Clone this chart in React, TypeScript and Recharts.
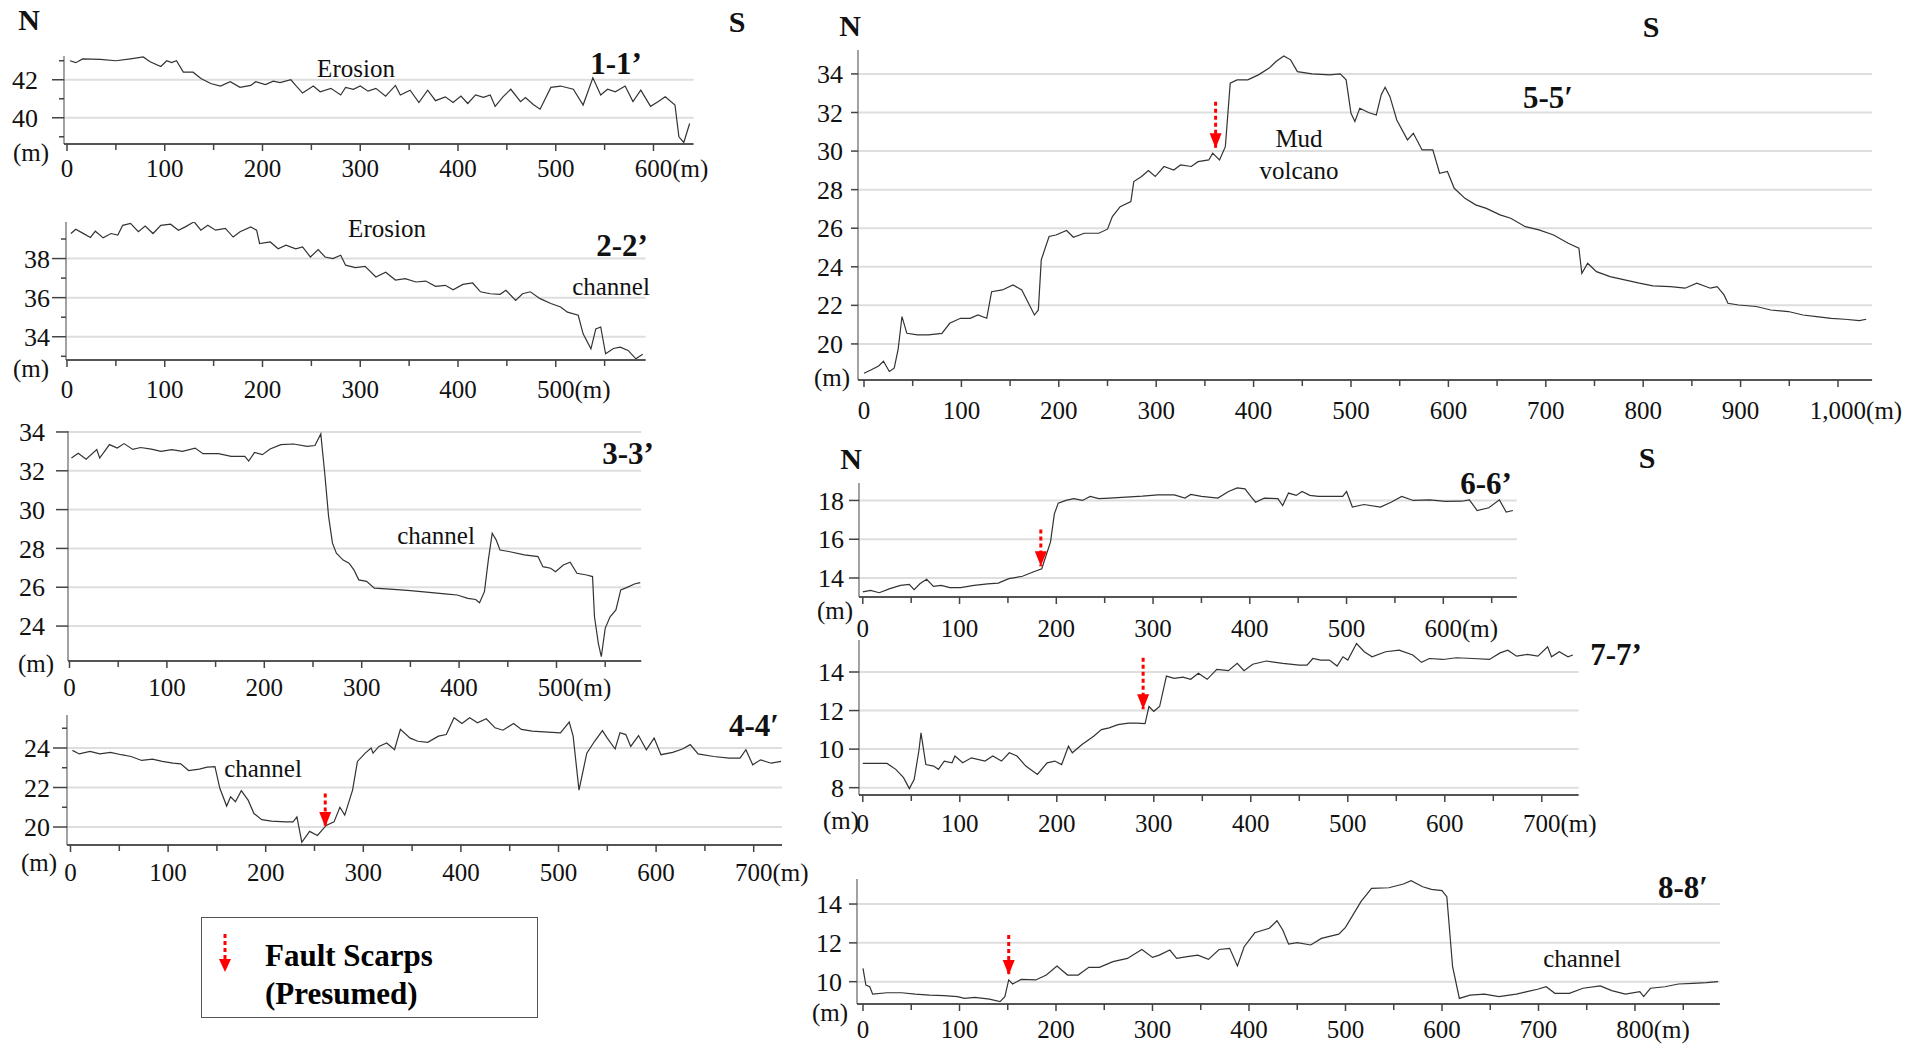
import React from 'react';
import { LineChart, Line, XAxis, YAxis, ReferenceLine, ReferenceDot } from 'recharts';

// profile 1-1'
const dist1 = [3,9,16,34,50,65,78,85,96,102,107,112,119,129,137,147,157,167,177,188,193,203,211,218,229,234,241,252,259,270,280,285,293,300,308,316,326,336,341,351,360,369,377,387,395,403,410,418,426,433,438,446,454,464,469,477,484,495,505,518,528,538,546,553,561,571,579,587,597,605,612,622,626,631,637];
const elev1 = [43.0,42.9,43.1,43.07,43.0,43.1,43.2,42.95,42.7,43.0,42.9,43.0,42.4,42.4,42.07,41.8,41.67,41.9,41.6,41.7,41.9,41.75,41.93,41.85,42.0,41.7,41.3,41.67,41.37,41.55,41.2,41.6,41.5,41.67,41.4,41.55,41.14,41.7,41.2,41.45,40.8,41.45,40.9,41.1,40.8,41.14,40.75,41.2,41.07,41.2,40.6,41.1,41.5,40.85,41.07,40.7,40.45,41.6,41.67,41.5,40.67,42.1,41.2,41.5,41.37,41.67,40.85,41.45,40.6,40.85,41.1,40.67,39.0,38.7,39.7];

// profile 2-2'
const dist2 = [4,9,16,24,29,37,45,52,57,65,73,80,88,96,106,114,121,130,137,144,152,162,170,177,188,194,197,208,216,224,234,241,249,257,264,272,280,285,295,305,316,326,336,346,357,367,377,387,395,405,415,423,433,443,449,459,466,474,484,495,505,512,523,528,536,541,546,551,559,566,574,582,589];
const elev2 = [39.28,39.5,39.3,39.08,39.4,39.06,39.28,39.2,39.7,39.8,39.37,39.66,39.28,39.7,39.76,39.45,39.62,39.88,39.45,39.7,39.45,39.54,39.1,39.37,39.62,39.45,38.77,38.85,38.5,38.68,38.5,38.6,38.08,38.46,38.08,38.0,38.17,37.66,37.54,37.6,37.06,37.3,36.9,36.97,36.8,36.85,36.58,36.63,36.4,36.68,36.75,36.3,36.2,36.17,36.38,35.86,36.2,36.3,35.95,35.7,35.52,35.26,35.1,34.15,33.38,34.4,34.5,33.13,33.4,33.47,33.3,32.87,33.1];

// profile 3-3'
const dist3 = [2,9,17,28,31,41,49,56,65,73,84,94,105,116,129,137,153,166,180,184,190,198,206,217,230,244,252,258,262,266,270,274,281,287,292,297,305,313,329,350,372,388,398,409,417,421,426,430,434,438,442,451,467,481,486,494,499,507,514,521,531,537,539,543,546,550,555,561,566,572,580,586];
const elev3 = [32.66,32.9,32.6,33.1,32.66,33.35,33.17,33.4,33.1,33.2,33.12,33.0,33.09,33.0,33.17,32.88,32.88,32.74,32.74,32.5,32.95,32.83,33.12,33.35,33.38,33.26,33.3,33.9,31.9,29.65,28.27,27.75,27.4,27.24,26.9,26.38,26.3,25.95,25.9,25.83,25.72,25.65,25.6,25.43,25.37,25.2,25.77,27.4,28.78,28.44,27.92,27.84,27.67,27.58,27.06,26.98,26.8,27.15,27.29,26.72,26.63,26.55,24.48,23.1,22.42,23.88,24.48,24.83,25.86,25.98,26.17,26.24];

// profile 4-4'
const dist4 = [2,9,20,30,41,52,62,73,84,94,105,113,121,132,140,148,153,160,164,169,175,182,188,196,206,220,228,232,237,245,253,262,270,276,281,289,294,302,308,310,316,324,332,338,348,356,366,377,385,393,401,409,417,426,435,443,454,462,473,489,502,511,515,521,529,537,545,550,558,563,569,574,582,590,598,605,617,627,635,643,659,675,686,692,699,707,718,728];
const elev4 = [23.88,23.7,23.83,23.7,23.78,23.66,23.57,23.37,23.44,23.32,23.23,23.2,22.86,22.93,23.03,23.06,21.96,21.06,21.53,21.28,21.84,21.36,20.68,20.37,20.3,20.26,20.26,20.51,19.23,19.78,19.57,20.08,20.26,21.0,20.6,21.87,23.32,23.74,24.0,23.74,24.08,24.25,23.91,24.94,24.5,24.34,24.29,24.6,24.68,25.53,25.24,25.53,25.28,25.48,25.02,24.9,25.24,24.94,24.85,24.8,24.77,25.31,24.6,21.87,23.74,24.34,24.88,24.5,23.95,24.77,24.68,24.08,24.63,23.91,24.5,23.66,23.78,23.95,24.17,23.7,23.57,23.49,23.49,23.91,23.15,23.4,23.23,23.32];

// profile 5-5'
const dist5 = [0,7,15,20,26,31,35,39,44,55,66,80,88,99,109,117,126,131,142,153,162,168,175,179,182,190,197,208,215,226,241,250,255,263,274,277,285,292,299,308,318,325,336,343,354,358,365,371,376,383,394,405,416,423,431,438,445,460,478,489,495,500,504,509,518,526,531,535,540,547,558,564,573,584,591,599,606,617,628,639,653,664,679,693,708,723,734,737,743,752,766,781,796,810,828,843,855,869,876,883,887,898,916,931,949,964,978,993,1007,1022,1029];
const elev5 = [18.48,18.65,18.86,19.1,18.57,18.74,19.7,21.42,20.55,20.47,20.47,20.55,21.07,21.33,21.33,21.5,21.33,22.71,22.8,23.06,22.8,22.2,21.5,21.76,24.36,25.57,25.65,25.88,25.53,25.74,25.74,25.95,26.6,27.12,27.38,28.42,28.68,28.99,28.68,29.2,29.02,29.28,29.2,29.45,29.54,29.89,29.54,30.23,33.52,33.69,33.69,33.95,34.3,34.64,34.93,34.73,34.12,34.0,33.95,34.0,33.69,31.96,31.53,32.22,32.0,31.87,32.91,33.31,32.82,31.61,30.58,30.92,30.06,30.06,28.85,28.94,28.07,27.55,27.21,27.03,26.69,26.52,26.08,25.91,25.65,25.22,24.96,23.66,24.18,23.75,23.49,23.32,23.15,23.01,22.97,22.89,23.15,22.89,22.97,22.54,22.11,22.02,21.94,21.76,21.68,21.5,21.42,21.33,21.28,21.21,21.28];

// profile 6-6'
const dist6 = [0,8,17,28,39,48,53,59,66,73,81,90,101,115,129,140,151,165,176,185,190,194,198,202,210,218,227,235,244,255,272,289,305,322,333,339,350,367,378,387,395,401,406,415,429,434,440,448,454,462,471,485,496,500,506,518,535,546,557,569,586,602,619,627,635,647,658,665,672];
const elev6 = [13.28,13.36,13.24,13.45,13.62,13.67,13.4,13.7,13.93,13.57,13.62,13.5,13.5,13.62,13.7,13.74,13.97,14.09,14.31,14.48,15.25,15.85,17.31,17.86,18.0,18.09,18.0,18.21,18.09,18.12,18.17,18.22,18.29,18.29,18.12,18.31,18.21,18.12,18.46,18.65,18.6,18.21,17.91,18.12,18.09,17.74,18.38,18.26,18.46,18.26,18.21,18.21,18.21,18.46,17.66,17.79,17.66,17.91,18.21,18.0,18.03,17.95,17.96,18.03,17.48,17.62,18.03,17.4,17.48];

// profile 7-7'
const dist7 = [0,25,34,42,48,53,58,60,65,73,78,84,92,95,103,112,126,134,143,151,159,168,180,190,198,205,212,216,226,238,246,254,263,274,282,291,295,300,306,313,321,330,338,346,355,365,377,386,393,402,416,433,450,458,464,472,481,489,495,500,509,517,525,539,553,567,576,584,598,612,629,646,657,665,674,685,696,706,710,718,727,732];
const elev7 = [9.26,9.26,8.95,8.52,7.95,8.43,9.98,10.84,9.2,9.12,8.95,9.38,9.29,9.64,9.29,9.55,9.38,9.64,9.38,9.81,9.64,9.12,8.69,9.29,9.38,9.2,10.15,9.81,10.24,10.67,11.01,11.1,11.27,11.35,11.35,11.32,12.21,11.96,12.21,13.79,13.67,13.73,13.62,13.93,13.62,14.14,14.07,14.45,14.07,14.4,14.57,14.45,14.36,14.36,14.7,14.62,14.62,14.31,14.79,14.62,15.48,15.05,14.79,15.05,15.13,14.88,14.5,14.7,14.65,14.74,14.7,14.65,14.99,15.13,14.82,14.91,14.82,15.31,14.79,15.05,14.79,14.88];

// profile 8-8'
const dist8 = [0,3,7,10,25,40,54,69,84,98,105,116,131,142,147,151,155,164,179,190,201,212,223,234,245,259,274,289,300,307,318,325,336,347,358,369,380,388,395,406,421,429,435,441,450,464,475,493,500,516,527,545,560,568,580,589,600,605,611,618,629,644,659,677,688,699,708,717,732,746,764,776,790,805,809,816,831,845,860,874,886];
const elev8 = [10.69,9.83,9.74,9.36,9.43,9.43,9.36,9.31,9.28,9.23,9.14,9.19,9.1,8.97,9.23,10.09,9.88,10.12,10.09,10.34,10.81,10.34,10.34,10.74,10.74,11.03,11.2,11.66,11.25,11.37,11.63,11.2,11.29,11.37,11.15,11.66,11.72,10.81,11.8,12.52,12.75,13.14,12.66,11.94,12.01,11.89,12.23,12.45,12.8,14.12,14.81,14.84,15.03,15.2,14.89,14.76,14.69,14.38,10.77,9.14,9.31,9.36,9.23,9.36,9.49,9.61,9.74,9.4,9.4,9.66,9.78,9.54,9.36,9.49,9.23,9.66,9.74,9.88,9.91,9.95,10.0];

// labelled elevation ticks per profile
const yMajor1 = [40, 42];
const yMajor2 = [34, 36, 38];
const yMajor3 = [24, 26, 28, 30, 32, 34];
const yMajor4 = [20, 22, 24];
const yMajor5 = [20, 22, 24, 26, 28, 30, 32, 34];
const yMajor6 = [14, 16, 18];
const yMajor7 = [8, 10, 12, 14];
const yMajor8 = [10, 12, 14];

// fault scarps (presumed): [distance, arrow top, arrow tip]
const fault4 = [261, 21.7, 20.0];
const fault5 = [361, 32.56, 30.15];
const fault6 = [184, 16.5, 14.6];
const fault7 = [289, 14.74, 12.07];
const fault8 = [151, 12.4, 10.34];

const FONT = '"Liberation Serif", "Times New Roman", serif';
const Y_W = 70;
const X_H = 50;

type Frame = {
  axisX: number; zeroX: number; ppm: number; xEnd: number;
  top: number; bottom: number; yMin: number; yMax: number;
  lastLabel: number; minor: boolean; tickLen: number; labelGap: number; xDy: number;
};

const rows = (d: number[], z: number[]) => d.map((x, i) => ({ d: x, z: z[i] }));

const numWidth = (s: string, fs: number) =>
  s.split('').reduce((w, c) => w + (c === ',' ? 0.25 : 0.5), 0) * fs;

function Profile({ f, dist, elev, major, fault }: { f: Frame; dist: number[]; elev: number[]; major: number[]; fault?: number[] }) {
  const xMin = -(f.zeroX - f.axisX) / f.ppm;
  const plotW = (f.xEnd - xMin) * f.ppm;
  const plotH = f.bottom - f.top;
  const xTicks: number[] = [];
  for (let v = 0; v <= f.xEnd; v += 50) xTicks.push(v);
  const yTicks: number[] = [];
  for (let v = Math.ceil(f.yMin); v <= f.yMax; v += 1) yTicks.push(v);
  const data = rows(dist, elev);

  const xTick = (p: any) => {
    const { x, y, payload } = p;
    const v = payload.value;
    const isMajor = v % 100 === 0;
    const fs = 25;
    let label: React.ReactNode = null;
    if (isMajor) {
      const s = v >= 1000 ? v.toLocaleString('en-US') : String(v);
      if (v === f.lastLabel) {
        label = (
          <text x={x - numWidth(s, fs) / 2} y={y + f.xDy} dy="0.35em" textAnchor="start" fontSize={fs} fill="#111">
            {s}(m)
          </text>
        );
      } else {
        label = (
          <text x={x} y={y + f.xDy} dy="0.35em" textAnchor="middle" fontSize={fs} fill="#111">
            {s}
          </text>
        );
      }
    }
    return (
      <g>
        <line x1={x} y1={y} x2={x} y2={y + (isMajor ? 7 : 6)} stroke="#444" strokeWidth={1.5} />
        {label}
      </g>
    );
  };

  const yTick = (p: any) => {
    const { x, y, payload } = p;
    const v = payload.value;
    const isMajor = major.includes(v);
    if (!isMajor && !f.minor) return <g />;
    return (
      <g>
        <line x1={x} y1={y} x2={x - (isMajor ? f.tickLen : 5)} y2={y} stroke="#444" strokeWidth={1.5} />
        {isMajor && (
          <text x={x - f.labelGap} y={y} dy="0.35em" textAnchor="end" fontSize={26} fill="#111">
            {v}
          </text>
        )}
      </g>
    );
  };

  return (
    <div style={{ position: 'absolute', left: f.axisX - Y_W, top: f.top - 2 }}>
      <LineChart width={Y_W + plotW + 4} height={2 + plotH + X_H} data={data} margin={{ top: 2, right: 4, left: 0, bottom: 0 }}>
        <XAxis
          type="number" dataKey="d" domain={[xMin, f.xEnd]} ticks={xTicks} interval={0}
          tickSize={0} tickMargin={0} height={X_H} tick={xTick} allowDataOverflow
          axisLine={{ stroke: '#555', strokeWidth: 2 }}
        />
        <YAxis
          type="number" domain={[f.yMin, f.yMax]} ticks={yTicks} interval={0}
          tickSize={0} tickMargin={0} width={Y_W} tick={yTick} allowDataOverflow
          axisLine={{ stroke: '#444', strokeWidth: 1 }}
        />
        {major.map((v) => (
          <ReferenceLine key={v} y={v} stroke="#dedede" strokeWidth={2} />
        ))}
        <Line type="linear" dataKey="z" stroke="#333" strokeWidth={1.2} dot={false} isAnimationActive={false} />
        {fault && (
          <ReferenceLine
            segment={[{ x: fault[0], y: fault[1] }, { x: fault[0], y: fault[2] }]}
            stroke="#ff0000" strokeWidth={3} strokeDasharray="4 3"
          />
        )}
        {fault && (
          <ReferenceDot
            x={fault[0]} y={fault[2]} r={1}
            shape={(p: any) => (
              <path d={`M${p.cx - 6},${p.cy - 15} L${p.cx + 6},${p.cy - 15} L${p.cx},${p.cy} Z`} fill="#ff0000" />
            )}
          />
        )}
      </LineChart>
    </div>
  );
}

const Note = ({ x, y, size = 25, bold = false, children }: { x: number; y: number; size?: number; bold?: boolean; children: React.ReactNode }) => (
  <div
    style={{
      position: 'absolute', left: x, top: y, transform: 'translate(-50%, -50%)',
      fontSize: size, fontWeight: bold ? 700 : 400, whiteSpace: 'nowrap', lineHeight: 1, color: '#111',
    }}
  >
    {children}
  </div>
);

const frame1: Frame = { axisX: 63.5, zeroX: 66.5, ppm: 0.9775, xEnd: 641, top: 56, bottom: 144, yMin: 38.62, yMax: 43.25, lastLabel: 600, minor: true, tickLen: 12, labelGap: 26, xDy: 24 };
const frame2: Frame = { axisX: 65.5, zeroX: 66.5, ppm: 0.9775, xEnd: 592, top: 222, bottom: 360, yMin: 32.81, yMax: 39.87, lastLabel: 500, minor: true, tickLen: 14, labelGap: 16, xDy: 29 };
const frame3: Frame = { axisX: 67.5, zeroX: 69, ppm: 0.974, xEnd: 587, top: 431, bottom: 661, yMin: 22.2, yMax: 34.05, lastLabel: 500, minor: false, tickLen: 12, labelGap: 23, xDy: 26 };
const frame4: Frame = { axisX: 66.5, zeroX: 70, ppm: 0.976, xEnd: 729, top: 715, bottom: 845, yMin: 19.09, yMax: 25.67, lastLabel: 700, minor: true, tickLen: 14, labelGap: 17, xDy: 27 };
const frame5: Frame = { axisX: 858, zeroX: 864, ppm: 0.974, xEnd: 1035, top: 50, bottom: 380, yMin: 18.13, yMax: 35.24, lastLabel: 1000, minor: false, tickLen: 7, labelGap: 15, xDy: 30 };
const frame6: Frame = { axisX: 858.5, zeroX: 862.3, ppm: 0.9675, xEnd: 676, top: 483, bottom: 597, yMin: 13.02, yMax: 18.9, lastLabel: 600, minor: false, tickLen: 10, labelGap: 15, xDy: 31 };
const frame7: Frame = { axisX: 858.5, zeroX: 862.3, ppm: 0.97, xEnd: 738, top: 640, bottom: 795, yMin: 7.62, yMax: 15.66, lastLabel: 700, minor: false, tickLen: 10, labelGap: 15, xDy: 28 };
const frame8: Frame = { axisX: 857, zeroX: 863, ppm: 0.965, xEnd: 888, top: 879, bottom: 1004, yMin: 8.85, yMax: 15.29, lastLabel: 800, minor: false, tickLen: 8, labelGap: 15, xDy: 25 };

export default function App() {
  return (
    <div style={{ position: 'absolute', left: 0, top: 0, width: 1909, height: 1045, background: '#fff', fontFamily: FONT, overflow: 'hidden' }}>
      <style>{'.recharts-surface, .recharts-wrapper { overflow: visible !important; }'}</style>
      <Profile f={frame1} dist={dist1} elev={elev1} major={yMajor1} />
      <Profile f={frame2} dist={dist2} elev={elev2} major={yMajor2} />
      <Profile f={frame3} dist={dist3} elev={elev3} major={yMajor3} />
      <Profile f={frame4} dist={dist4} elev={elev4} major={yMajor4} fault={fault4} />
      <Profile f={frame5} dist={dist5} elev={elev5} major={yMajor5} fault={fault5} />
      <Profile f={frame6} dist={dist6} elev={elev6} major={yMajor6} fault={fault6} />
      <Profile f={frame7} dist={dist7} elev={elev7} major={yMajor7} fault={fault7} />
      <Profile f={frame8} dist={dist8} elev={elev8} major={yMajor8} fault={fault8} />

      <Note x={29} y={20} size={30} bold>N</Note>
      <Note x={737} y={22} size={30} bold>S</Note>
      <Note x={850} y={26} size={30} bold>N</Note>
      <Note x={1651} y={27} size={30} bold>S</Note>
      <Note x={851} y={459} size={30} bold>N</Note>
      <Note x={1647} y={458} size={30} bold>S</Note>

      <Note x={616} y={63} size={31} bold>1-1’</Note>
      <Note x={622} y={245} size={31} bold>2-2’</Note>
      <Note x={628} y={453} size={31} bold>3-3’</Note>
      <Note x={754} y={725} size={31} bold>4-4′</Note>
      <Note x={1548} y={97} size={31} bold>5-5′</Note>
      <Note x={1486} y={483} size={31} bold>6-6’</Note>
      <Note x={1616} y={654} size={31} bold>7-7’</Note>
      <Note x={1683} y={887} size={31} bold>8-8′</Note>

      <Note x={356} y={68}>Erosion</Note>
      <Note x={387} y={228}>Erosion</Note>
      <Note x={611} y={286}>channel</Note>
      <Note x={436} y={535}>channel</Note>
      <Note x={263} y={768}>channel</Note>
      <Note x={1299} y={138}>Mud</Note>
      <Note x={1299} y={170}>volcano</Note>
      <Note x={1582} y={958}>channel</Note>

      <Note x={31} y={152}>(m)</Note>
      <Note x={31} y={368}>(m)</Note>
      <Note x={36} y={663}>(m)</Note>
      <Note x={39} y={862}>(m)</Note>
      <Note x={832} y={377}>(m)</Note>
      <Note x={835} y={610}>(m)</Note>
      <Note x={841} y={820}>(m)</Note>
      <Note x={830} y={1012}>(m)</Note>

      <div style={{ position: 'absolute', left: 201, top: 917, width: 335, height: 99, border: '1.5px solid #555' }} />
      <svg style={{ position: 'absolute', left: 215, top: 930 }} width={20} height={46}>
        <line x1={10} y1={4} x2={10} y2={30} stroke="#ff0000" strokeWidth={3} strokeDasharray="4 3" />
        <path d="M4,29 L16,29 L10,42 Z" fill="#ff0000" />
      </svg>
      <div style={{ position: 'absolute', left: 265, top: 940, fontSize: 31, fontWeight: 700, lineHeight: 1 }}>Fault Scarps</div>
      <div style={{ position: 'absolute', left: 265, top: 978, fontSize: 31, fontWeight: 700, lineHeight: 1 }}>(Presumed)</div>
    </div>
  );
}
